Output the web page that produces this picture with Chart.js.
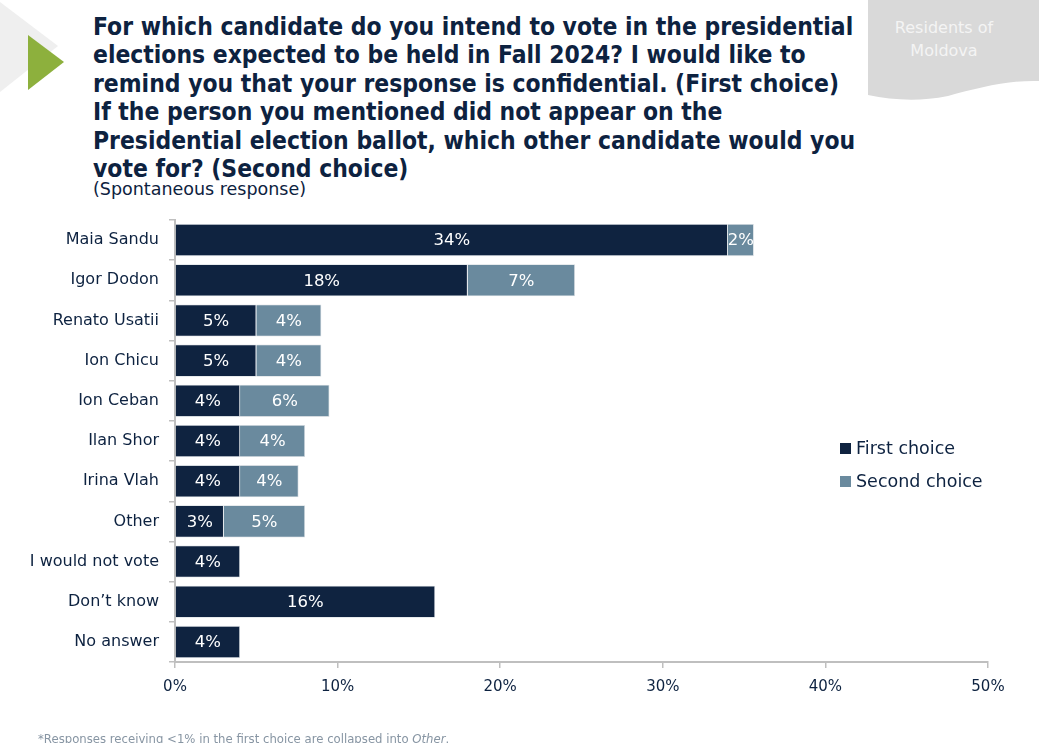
<!DOCTYPE html>
<html>
<head>
<meta charset="utf-8">
<script src="https://cdn.jsdelivr.net/npm/chart.js@4/dist/chart.umd.min.js"></script>
<style>
  html, body { margin:0; padding:0; background:#fff; }
  body { width:1039px; height:743px; position:relative; overflow:hidden; font-family:"DejaVu Sans", sans-serif; }
  #chart { position:absolute; left:0; top:0; width:1039px; height:743px; }
  .title { position:absolute; left:93px; top:13px; color:#0d2240; font-weight:bold; font-size:24px; line-height:28.4px; white-space:nowrap; transform-origin:0 0; transform:scaleX(0.915); }
  .sub { position:absolute; left:93px; top:179px; color:#0d2240; font-size:17.5px; white-space:nowrap; }
  .badge { position:absolute; left:868px; top:0; width:171px; height:100px; }
  .badge-text { position:absolute; left:868px; top:16px; width:152px; text-align:center; color:#f4f4f4; font-size:16px; line-height:23px; }
  .legend { position:absolute; left:840px; top:436px; color:#0d2240; font-size:17.5px; }
  .legend div { height:33px; line-height:24px; white-space:nowrap; }
  .legend span.sw { display:inline-block; width:11px; height:11px; margin-right:5px; vertical-align:0px; }
  .foot { position:absolute; left:38px; top:731px; color:#8795a3; font-size:12.5px; white-space:nowrap; transform-origin:0 0; transform:scaleX(0.935); }
</style>
</head>
<body>
<svg style="position:absolute;left:0;top:0" width="120" height="120">
  <polygon points="0,2 58,46 0,92" fill="#efefef"/>
  <polygon points="28,35 64,62 28,90" fill="#8db03d"/>
</svg>
<svg class="badge" width="171" height="100">
  <path d="M0,0 L171,0 L171,81 C140,80 110,88 80,96 C50,102 25,100 0,95 Z" fill="#d9d9d9"/>
</svg>
<div class="badge-text">Residents of<br>Moldova</div>
<div class="title">For which candidate do you intend to vote in the presidential<br>elections expected to be held in Fall 2024? I would like to<br>remind you that your response is confidential. (First choice)<br>If the person you mentioned did not appear on the<br>Presidential election ballot, which other candidate would you<br>vote for? (Second choice)</div>
<div class="sub">(Spontaneous response)</div>
<canvas id="chart" width="1039" height="743"></canvas>
<div class="legend">
  <div><span class="sw" style="background:#0f2340"></span>First choice</div>
  <div><span class="sw" style="background:#6a8a9e"></span>Second choice</div>
</div>
<div class="foot">*Responses receiving &lt;1% in the first choice are collapsed into <i>Other</i>.</div>
<script>
const categories = ["Maia Sandu","Igor Dodon","Renato Usatii","Ion Chicu","Ion Ceban","Ilan Shor","Irina Vlah","Other","I would not vote","Don\u2019t know","No answer"];
const firstChoice  = [34.0, 18.0, 5.0, 5.0, 4.0, 4.0, 4.0, 3.0, 4.0, 16.0, 4.0];
const secondChoice = [1.6, 6.6, 4.0, 4.0, 5.5, 4.0, 3.6, 5.0, null, null, null];
const seriesNames = ["First choice", "Second choice"];
const xTicks = [0, 10, 20, 30, 40, 50];

const FONT = "'DejaVu Sans', sans-serif";

const barLabels = {
  id: 'barLabels',
  afterDatasetsDraw(chart) {
    const ctx = chart.ctx;
    ctx.save();
    ctx.fillStyle = '#ffffff';
    ctx.font = "16.5px " + FONT;
    ctx.textAlign = 'center';
    ctx.textBaseline = 'middle';
    chart.data.datasets.forEach((ds, di) => {
      const meta = chart.getDatasetMeta(di);
      meta.data.forEach((el, i) => {
        const v = ds.data[i];
        if (v === null || v === undefined) return;
        const p = el.getProps(['x','y','base'], true);
        ctx.fillText(Math.round(v) + '%', (p.x + p.base) / 2, p.y + 1);
      });
    });
    ctx.restore();
  }
};

new Chart(document.getElementById('chart'), {
  type: 'bar',
  data: {
    labels: categories,
    datasets: [
      { label: seriesNames[0], data: firstChoice, backgroundColor: '#0f2340', borderColor: '#d5dbe0', borderWidth: 0.8, barPercentage: 1, categoryPercentage: 0.8 },
      { label: seriesNames[1], data: secondChoice, backgroundColor: '#6a8a9e', borderColor: '#d5dbe0', borderWidth: 0.8, barPercentage: 1, categoryPercentage: 0.8 }
    ]
  },
  options: {
    indexAxis: 'y',
    responsive: false,
    animation: false,
    devicePixelRatio: 1,
    layout: { padding: { left: 0, top: 220, right: 51, bottom: 41 } },
    plugins: { legend: { display: false }, tooltip: { enabled: false } },
    scales: {
      x: {
        stacked: true, min: 0, max: 50,
        afterBuildTicks(s) { s.ticks = xTicks.map(v => ({ value: v })); },
        afterFit(s) { s.height = 40; },
        ticks: { callback: v => v + '%', color: '#0d2240', font: { family: FONT, size: 15 }, padding: 10, maxRotation: 0 },
        grid: { drawOnChartArea: false, drawTicks: true, tickLength: 6, color: '#bfbfbf', lineWidth: 1.5 },
        border: { color: '#bfbfbf', width: 2 }
      },
      y: {
        stacked: true,
        afterFit(s) { s.width = 175; },
        ticks: { color: '#0d2240', font: { family: FONT, size: 16 }, padding: 10 },
        grid: { drawOnChartArea: false, drawTicks: true, tickLength: 6, color: '#bfbfbf', lineWidth: 1.5, offset: true },
        border: { color: '#bfbfbf', width: 2 }
      }
    }
  },
  plugins: [barLabels]
});
</script>
</body>
</html>
